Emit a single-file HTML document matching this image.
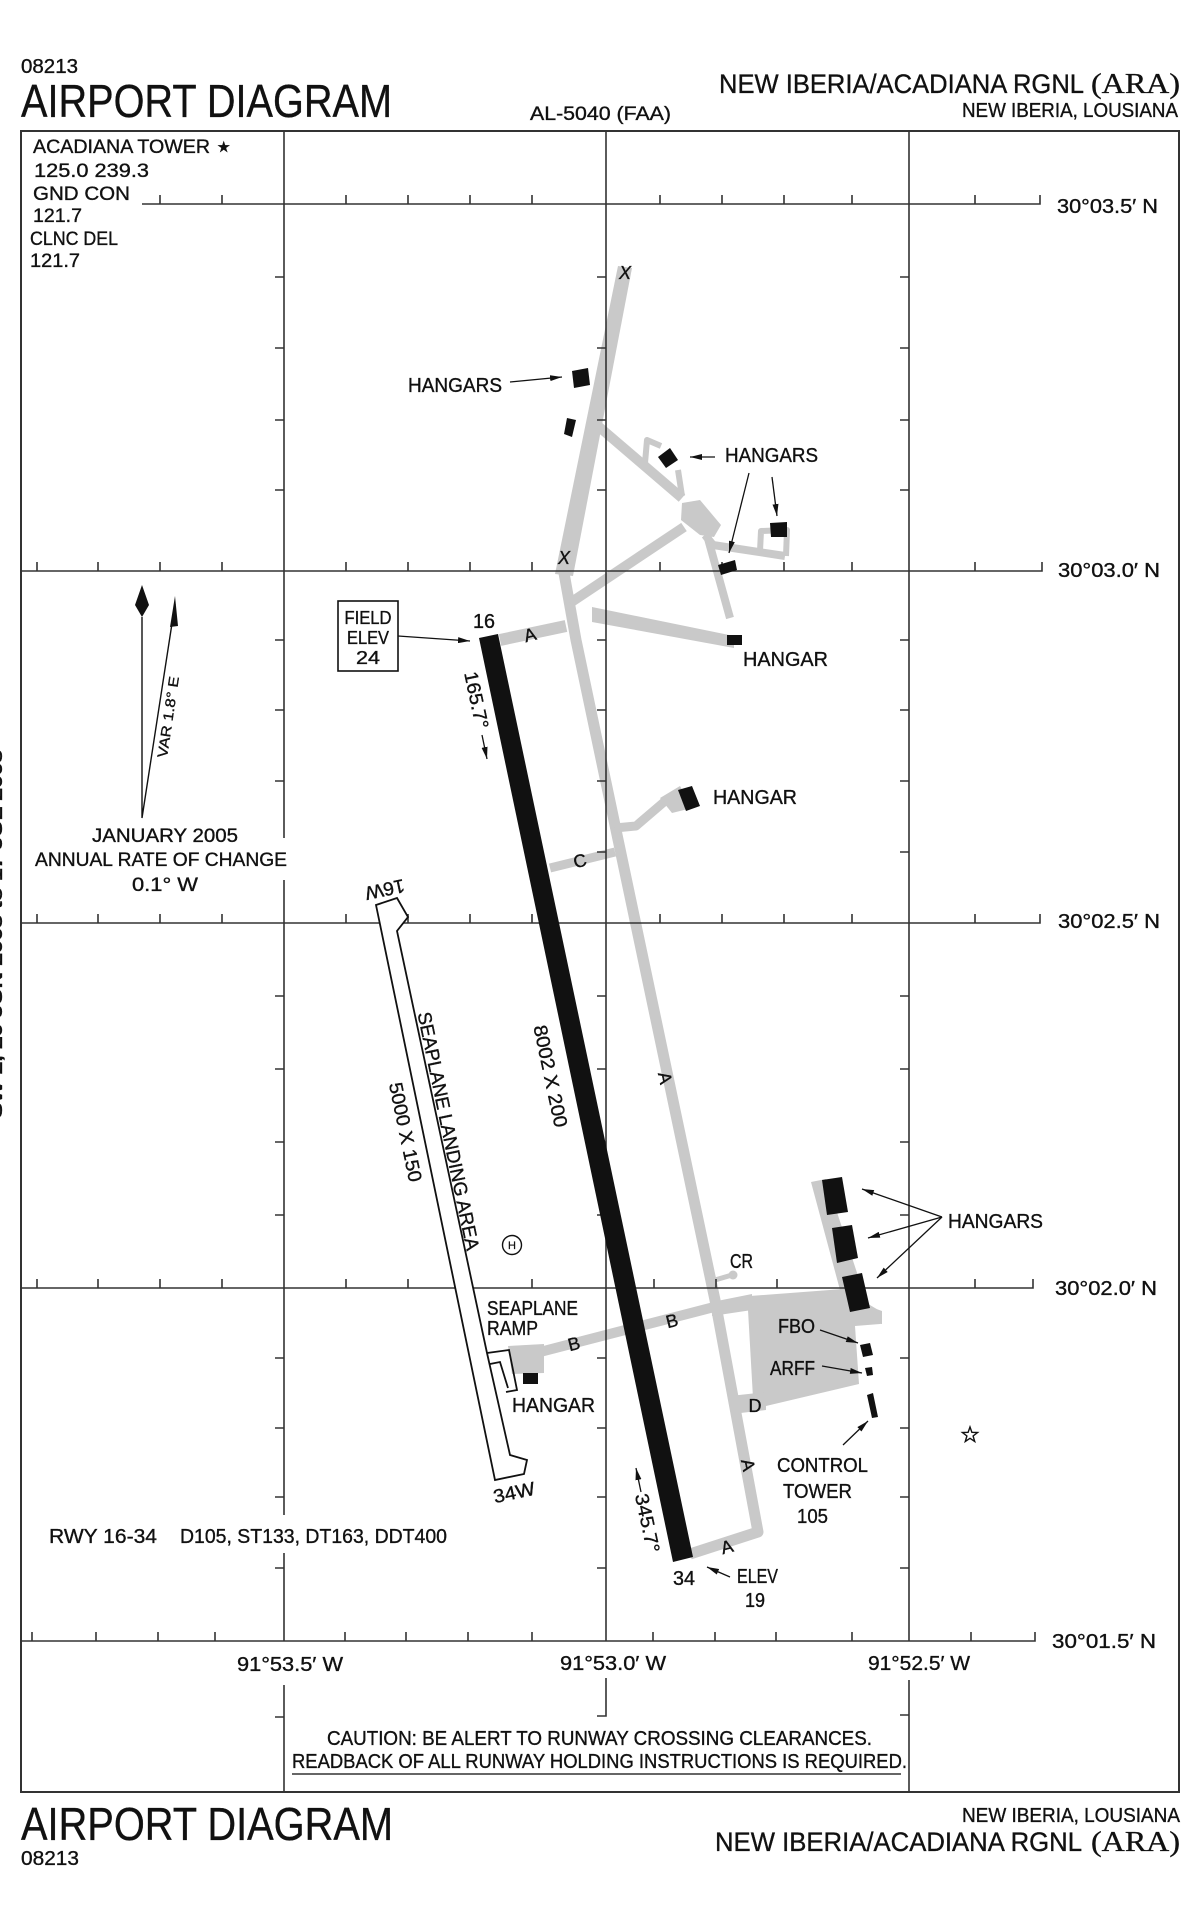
<!DOCTYPE html>
<html><head><meta charset="utf-8"><style>
html,body{margin:0;padding:0;background:#fff;}
svg{display:block;}
text{font-family:"Liberation Sans",sans-serif;fill:#111;stroke:#111;stroke-width:0.35;}
</style></head><body>
<svg width="1200" height="1922" viewBox="0 0 1200 1922" xmlns="http://www.w3.org/2000/svg">
<defs>
<marker id="ah" viewBox="0 0 12 6" refX="12" refY="3" markerWidth="12" markerHeight="6" orient="auto" markerUnits="userSpaceOnUse"><path d="M0,0 L12,3 L0,6 z" fill="#111"/></marker>
</defs>
<rect width="1200" height="1922" fill="#fff"/>

<!-- header -->
<text x="21" y="73" font-size="20" textLength="57" lengthAdjust="spacingAndGlyphs">08213</text>
<text x="21" y="117" font-size="46" textLength="371" lengthAdjust="spacingAndGlyphs">AIRPORT DIAGRAM</text>
<text x="530" y="120" font-size="19" textLength="141" lengthAdjust="spacingAndGlyphs">AL-5040 (FAA)</text>
<text x="719" y="93" font-size="27" textLength="365" lengthAdjust="spacingAndGlyphs">NEW IBERIA/ACADIANA RGNL</text>
<text x="1091" y="93" font-size="28" textLength="89" lengthAdjust="spacingAndGlyphs" style="font-family:'Liberation Serif',serif">(ARA)</text>
<text x="962" y="117" font-size="20" textLength="216" lengthAdjust="spacingAndGlyphs">NEW IBERIA, LOUSIANA</text>

<!-- left margin rotated text -->
<text transform="translate(2,934) rotate(-90)" text-anchor="middle" font-size="17" font-weight="bold" textLength="368" lengthAdjust="spacingAndGlyphs">SW-2, 20 JUN 2008 to 17 JUL 2008</text>

<!-- gray taxiways -->
<g fill="#c9c9c9" stroke="none">
<polygon points="618,266 632,268 573,576 555,574"/>
<polygon points="592,607 734,636 734,648 592,622"/>
<polygon points="682,503 700,500 721,525 714,537 700,535 681,520"/>
<polygon points="660,798 680,786 692,808 672,813"/>
<polygon points="508,1346 544,1344 544,1373 512,1374"/>
<polygon points="811,1182 826,1179 868,1306 882,1311 882,1324 852,1322 840,1290"/>
<polygon points="750,1296 843,1289 880,1311 880,1324 855,1326 859,1384 766,1406 753,1398 748,1310"/>
<polygon points="712,1302 752,1294 752,1310 712,1316"/>
<polygon points="730,1396 766,1392 766,1410 732,1414"/>
<circle cx="733" cy="1275" r="4.5"/>
</g>
<g fill="none" stroke="#c9c9c9" stroke-linejoin="round">
<path d="M564,573 L576,640 L715,1300 L758,1532 L690,1554" stroke-width="11"/>
<path d="M566,626 L500,640" stroke-width="12"/>
<path d="M570,603 L684,527" stroke-width="10"/>
<path d="M598,426 L682,498" stroke-width="10"/>
<path d="M645,463 L647,440 L661,446" stroke-width="6"/>
<path d="M678,470 L682,496" stroke-width="6"/>
<path d="M705,535 L713,545 L785,556" stroke-width="8"/>
<path d="M760,551 L761,531 L787,530 L786,556" stroke-width="6"/>
<path d="M707,535 L730,618" stroke-width="8"/>
<path d="M615,828 L636,826 L664,802 L684,794" stroke-width="9"/>
<path d="M550,868 L615,852" stroke-width="9"/>
<path d="M540,1352 L718,1306" stroke-width="10"/>
<path d="M715,1280 L732,1275" stroke-width="5"/>
</g>

<!-- grid lines -->
<g stroke="#333" stroke-width="1.6" fill="none">
<rect x="21" y="131" width="1158" height="1661" stroke-width="2"/>
<path d="M142,204 H1040 v-9 M21,571 H1042 v-9 M21,923 H1040 v-9 M21,1288 H1033 v-9 M21,1641 H1035 v-9"/>
<path d="M284,131 V838 M284,880 V1515 M284,1553 V1641 M284,1685 V1792"/>
<path d="M606,131 V1641 M606,1678 V1716 H597"/>
<path d="M909,131 V1641 M909,1680 V1792"/>
<!-- horizontal ticks -->
<path d="M160,204v-9 M222,204v-9 M346,204v-9 M408,204v-9 M470,204v-9 M532,204v-9 M660,204v-9 M722,204v-9 M784,204v-9 M852,204v-9 M975,204v-9"/>
<path d="M37,571v-9 M98,571v-9 M160,571v-9 M222,571v-9 M346,571v-9 M408,571v-9 M470,571v-9 M532,571v-9 M660,571v-9 M722,571v-9 M784,571v-9 M852,571v-9 M975,571v-9"/>
<path d="M37,923v-9 M98,923v-9 M160,923v-9 M222,923v-9 M346,923v-9 M408,923v-9 M470,923v-9 M532,923v-9 M660,923v-9 M722,923v-9 M784,923v-9 M852,923v-9 M975,923v-9"/>
<path d="M37,1288v-9 M98,1288v-9 M160,1288v-9 M222,1288v-9 M346,1288v-9 M408,1288v-9 M470,1288v-9 M532,1288v-9 M654,1288v-9 M716,1288v-9 M777,1288v-9 M852,1288v-9 M975,1288v-9"/>
<path d="M32,1641v-9 M96,1641v-9 M158,1641v-9 M215,1641v-9 M345,1641v-9 M406,1641v-9 M468,1641v-9 M532,1641v-9 M653,1641v-9 M715,1641v-9 M776,1641v-9 M852,1641v-9 M971,1641v-9"/>
<!-- vertical ticks -->
<path d="M284,277h-9 M284,348h-9 M284,420h-9 M284,490h-9 M284,640h-9 M284,710h-9 M284,781h-9 M284,996h-9 M284,1069h-9 M284,1142h-9 M284,1215h-9 M284,1358h-9 M284,1428h-9 M284,1497h-9 M284,1568h-9 M284,1717h-9"/>
<path d="M606,277h-9 M606,348h-9 M606,420h-9 M606,490h-9 M606,640h-9 M606,710h-9 M606,781h-9 M606,852h-9 M606,996h-9 M606,1069h-9 M606,1142h-9 M606,1215h-9 M606,1358h-9 M606,1428h-9 M606,1497h-9 M606,1568h-9"/>
<path d="M909,277h-9 M909,348h-9 M909,420h-9 M909,490h-9 M909,640h-9 M909,710h-9 M909,781h-9 M909,852h-9 M909,996h-9 M909,1069h-9 M909,1142h-9 M909,1215h-9 M909,1358h-9 M909,1428h-9 M909,1497h-9 M909,1568h-9 M909,1715h-9"/>
</g>

<!-- seaplane landing area -->
<g fill="#fff" stroke="#111" stroke-width="1.8" stroke-linejoin="miter">
<path d="M376,905 L397,898 L408,917 L397,931 L487,1353 L510,1455 L527,1460 L524,1474 L495,1480 Z"/>
<path d="M487,1353 L509,1350 L517,1390 L506,1392" fill="none"/>
<path d="M490,1364 L500,1362 L508,1388" fill="none"/>
</g>

<!-- runway -->
<polygon points="479,638 498,634 693,1557 673,1562" fill="#111"/>

<!-- buildings -->
<g fill="#111">
<polygon points="572,371 588,368 590,385 574,388"/>
<polygon points="567,418 576,420 572,437 564,434"/>
<polygon points="658,457 670,448 678,460 666,468"/>
<polygon points="770,523 787,522 787,537 771,537"/>
<polygon points="718,565 735,560 737,570 721,575"/>
<polygon points="727,635 742,635 742,645 727,645"/>
<polygon points="678,790 692,786 700,806 686,811"/>
<polygon points="523,1373 538,1373 538,1384 523,1384"/>
<polygon points="822,1180 842,1177 848,1212 827,1215"/>
<polygon points="832,1228 852,1225 858,1258 837,1263"/>
<polygon points="842,1277 862,1273 870,1308 850,1312"/>
<polygon points="860,1345 870,1343 873,1355 863,1357"/>
<polygon points="865,1368 872,1367 873,1375 867,1376"/>
<polygon points="867,1395 873,1393 878,1417 872,1418"/>
</g>

<!-- arrows -->
<g stroke="#111" stroke-width="1.3" fill="none" marker-end="url(#ah)">
<path d="M398,636 L470,641"/>
<path d="M510,382 L562,377"/>
<path d="M715,457 L690,457"/>
<path d="M749,473 L729,553"/>
<path d="M772,477 L777,516"/>
<path d="M942,1217 L862,1189"/>
<path d="M942,1217 L868,1238"/>
<path d="M942,1217 L877,1278"/>
<path d="M820,1330 L858,1343"/>
<path d="M822,1366 L862,1373"/>
<path d="M843,1445 L868,1421"/>
<path d="M730,1577 L707,1567"/>
<path d="M482,735 L487,759"/>
<path d="M641,1492 L636,1468"/>
</g>

<!-- compass -->
<polygon points="142,585 149,605 142,617 135,605" fill="#111"/>
<path d="M142,617 V818 L175,604" stroke="#111" stroke-width="1.4" fill="none"/>
<polygon points="175,596 170,627 178,626" fill="#111"/>
<text transform="translate(168,717) rotate(-81.5)" y="5" text-anchor="middle" font-size="14" textLength="82" lengthAdjust="spacingAndGlyphs">VAR 1.8° E</text>
<text x="92" y="842" font-size="19" textLength="146" lengthAdjust="spacingAndGlyphs">JANUARY  2005</text>
<text x="35" y="866" font-size="19" textLength="252" lengthAdjust="spacingAndGlyphs">ANNUAL RATE OF CHANGE</text>
<text x="132" y="891" font-size="19" textLength="66" lengthAdjust="spacingAndGlyphs">0.1° W</text>

<!-- frequencies -->
<text x="33" y="153" font-size="19" textLength="177" lengthAdjust="spacingAndGlyphs">ACADIANA TOWER</text>
<text x="217" y="152" font-size="15">★</text>
<text x="34" y="177" font-size="19" textLength="115" lengthAdjust="spacingAndGlyphs">125.0  239.3</text>
<text x="33" y="200" font-size="19" textLength="97" lengthAdjust="spacingAndGlyphs">GND CON</text>
<text x="33" y="222" font-size="19" textLength="49" lengthAdjust="spacingAndGlyphs">121.7</text>
<text x="30" y="245" font-size="19" textLength="88" lengthAdjust="spacingAndGlyphs">CLNC DEL</text>
<text x="30" y="267" font-size="19" textLength="50" lengthAdjust="spacingAndGlyphs">121.7</text>

<!-- lat/long labels -->
<g font-size="20">
<text x="1057" y="213" textLength="101" lengthAdjust="spacingAndGlyphs">30°03.5′ N</text>
<text x="1058" y="577" textLength="102" lengthAdjust="spacingAndGlyphs">30°03.0′ N</text>
<text x="1058" y="928" textLength="102" lengthAdjust="spacingAndGlyphs">30°02.5′ N</text>
<text x="1055" y="1295" textLength="102" lengthAdjust="spacingAndGlyphs">30°02.0′ N</text>
<text x="1052" y="1648" textLength="104" lengthAdjust="spacingAndGlyphs">30°01.5′ N</text>
<text x="237" y="1671" textLength="106" lengthAdjust="spacingAndGlyphs">91°53.5′ W</text>
<text x="560" y="1670" textLength="106" lengthAdjust="spacingAndGlyphs">91°53.0′ W</text>
<text x="868" y="1670" textLength="102" lengthAdjust="spacingAndGlyphs">91°52.5′ W</text>
</g>

<!-- field elev box -->
<rect x="338" y="601" width="60" height="70" fill="#fff" stroke="#111" stroke-width="1.6"/>
<g font-size="18" text-anchor="middle">
<text x="368" y="624" textLength="47" lengthAdjust="spacingAndGlyphs">FIELD</text>
<text x="368" y="644" textLength="42" lengthAdjust="spacingAndGlyphs">ELEV</text>
<text x="368" y="664" textLength="24" lengthAdjust="spacingAndGlyphs">24</text>
</g>

<!-- labels -->
<g font-size="20">
<text x="408" y="392" textLength="94" lengthAdjust="spacingAndGlyphs">HANGARS</text>
<text x="725" y="462" textLength="93" lengthAdjust="spacingAndGlyphs">HANGARS</text>
<text x="743" y="666" textLength="85" lengthAdjust="spacingAndGlyphs">HANGAR</text>
<text x="713" y="804" textLength="84" lengthAdjust="spacingAndGlyphs">HANGAR</text>
<text x="487" y="1315" textLength="91" lengthAdjust="spacingAndGlyphs">SEAPLANE</text>
<text x="487" y="1335" textLength="51" lengthAdjust="spacingAndGlyphs">RAMP</text>
<text x="512" y="1412" textLength="83" lengthAdjust="spacingAndGlyphs">HANGAR</text>
<text x="948" y="1228" textLength="95" lengthAdjust="spacingAndGlyphs">HANGARS</text>
<text x="778" y="1333" textLength="37" lengthAdjust="spacingAndGlyphs">FBO</text>
<text x="770" y="1375" textLength="45" lengthAdjust="spacingAndGlyphs">ARFF</text>
<text x="730" y="1268" textLength="23" lengthAdjust="spacingAndGlyphs">CR</text>
<text x="777" y="1472" textLength="91" lengthAdjust="spacingAndGlyphs">CONTROL</text>
<text x="783" y="1498" textLength="69" lengthAdjust="spacingAndGlyphs">TOWER</text>
<text x="797" y="1523" textLength="31" lengthAdjust="spacingAndGlyphs">105</text>
<text x="737" y="1583" textLength="41" lengthAdjust="spacingAndGlyphs">ELEV</text>
<text x="745" y="1607" textLength="20" lengthAdjust="spacingAndGlyphs">19</text>
<text x="473" y="628" textLength="22" lengthAdjust="spacingAndGlyphs">16</text>
<text x="673" y="1585" textLength="22" lengthAdjust="spacingAndGlyphs">34</text>
<text x="49" y="1543" textLength="108" lengthAdjust="spacingAndGlyphs">RWY  16-34</text>
<text x="180" y="1543" textLength="267" lengthAdjust="spacingAndGlyphs">D105, ST133, DT163, DDT400</text>
</g>

<!-- rotated runway / seaplane labels -->
<g font-size="19" text-anchor="middle">
<text transform="translate(477,700) rotate(78)" y="7" textLength="58" lengthAdjust="spacingAndGlyphs">165.7°</text>
<text transform="translate(648,1523) rotate(78)" y="7" textLength="60" lengthAdjust="spacingAndGlyphs">345.7°</text>
<text transform="translate(551,1076) rotate(78)" y="7" textLength="104" lengthAdjust="spacingAndGlyphs">8002 X 200</text>
<text transform="translate(449,1131) rotate(78.3)" y="7" textLength="243" lengthAdjust="spacingAndGlyphs">SEAPLANE LANDING AREA</text>
<text transform="translate(406,1132) rotate(78.3)" y="7" textLength="101" lengthAdjust="spacingAndGlyphs">5000 X 150</text>
<text transform="translate(385,890) rotate(168)" y="7" textLength="40" lengthAdjust="spacingAndGlyphs">16W</text>
<text transform="translate(514,1492) rotate(-12)" y="7" textLength="42" lengthAdjust="spacingAndGlyphs">34W</text>
</g>

<!-- taxiway letters -->
<g font-size="18" text-anchor="middle">
<text x="625" y="279" font-style="italic">X</text>
<text x="564" y="564" font-style="italic">X</text>
<text transform="translate(530,635) rotate(-15)" y="6">A</text>
<text transform="translate(580,861) rotate(-14)" y="6">C</text>
<text transform="translate(665,1078) rotate(78)" y="6">A</text>
<text transform="translate(748,1465) rotate(78)" y="6">A</text>
<text transform="translate(574,1344) rotate(-14)" y="6">B</text>
<text transform="translate(672,1321) rotate(-14)" y="6">B</text>
<text x="755" y="1412">D</text>
<text transform="translate(727,1547) rotate(-15)" y="6">A</text>
</g>

<!-- heliport -->
<circle cx="512" cy="1245" r="9.5" fill="#fff" stroke="#111" stroke-width="1.4"/>
<text x="512" y="1249" font-size="11" text-anchor="middle" style="stroke-width:0.2">H</text>

<!-- tower star -->
<polygon points="970,1427 971.9,1432.3 977.6,1432.5 973.1,1436 974.7,1441.5 970,1438.3 965.3,1441.5 966.9,1436 962.4,1432.5 968.1,1432.3" fill="#fff" stroke="#111" stroke-width="1.4"/>

<!-- caution -->
<text x="327" y="1745" font-size="20" textLength="545" lengthAdjust="spacingAndGlyphs">CAUTION:  BE ALERT TO RUNWAY CROSSING CLEARANCES.</text>
<text x="292" y="1768" font-size="20" textLength="615" lengthAdjust="spacingAndGlyphs">READBACK OF ALL RUNWAY HOLDING INSTRUCTIONS IS REQUIRED.</text>
<path d="M292,1774 H901" stroke="#333" stroke-width="1.6"/>

<!-- footer -->
<text x="21" y="1840" font-size="46" textLength="372" lengthAdjust="spacingAndGlyphs">AIRPORT DIAGRAM</text>
<text x="21" y="1865" font-size="20" textLength="58" lengthAdjust="spacingAndGlyphs">08213</text>
<text x="962" y="1822" font-size="20" textLength="218" lengthAdjust="spacingAndGlyphs">NEW IBERIA, LOUSIANA</text>
<text x="715" y="1851" font-size="27" textLength="367" lengthAdjust="spacingAndGlyphs">NEW IBERIA/ACADIANA RGNL</text>
<text x="1091" y="1851" font-size="28" textLength="89" lengthAdjust="spacingAndGlyphs" style="font-family:'Liberation Serif',serif">(ARA)</text>
</svg>
</body></html>
